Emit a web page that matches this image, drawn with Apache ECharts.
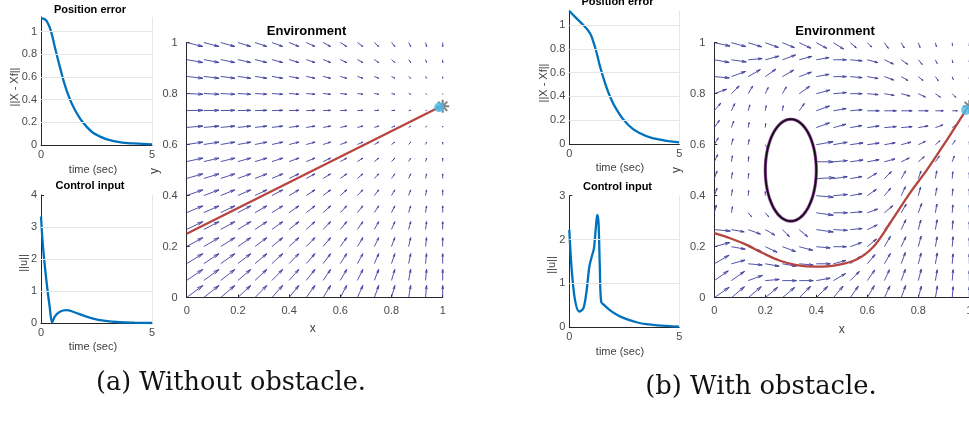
<!DOCTYPE html>
<html><head><meta charset="utf-8">
<script src="https://cdn.jsdelivr.net/npm/echarts@6/dist/echarts.min.js"></script>
<style>html,body{margin:0;padding:0;background:#fff}#c{width:969px;height:424px}</style>
</head><body><div id="c"></div>
<script>
// ---------- data ----------
// (a) Without obstacle
const peTimeA = [0,0.17,0.32,0.47,0.62,0.85,1.15,1.53,2.05,2.66,3.41,4.17,5];
const peValA  = [1.118,1.11,1.07,0.99,0.868,0.69,0.485,0.309,0.162,0.074,0.029,0.014,0.006];
const ciTimeA = [0,0.09,0.24,0.39,0.5,0.62,0.85,1.15,1.45,2.05,2.66,3.41,4.2,5];
const ciValA  = [3.33,2.39,1.35,0.52,0.02,0.21,0.36,0.41,0.36,0.21,0.10,0.04,0.02,0.01];
const trajXA = [0,0.986];
const trajYA = [0.25,0.746];
// (b) With obstacle
const peTimeB = [0,0.33,0.71,0.94,1.09,1.25,1.40,1.63,1.85,2.16,2.61,3.22,3.83,5];
const peValB  = [1.118,1.056,0.986,0.93,0.86,0.76,0.65,0.51,0.40,0.286,0.174,0.09,0.048,0.014];
const ciTimeB = [0,0.11,0.26,0.45,0.64,0.79,0.91,1.02,1.12,1.21,1.27,1.33,1.39,1.45,1.6,1.8,2.05,2.3,2.7,3.06,3.5,4,5];
const ciValB  = [2.22,1.31,0.62,0.36,0.43,0.85,1.38,1.61,1.80,2.29,2.56,2.37,1.31,0.58,0.5,0.41,0.32,0.25,0.17,0.115,0.07,0.045,0.015];
const trajXB = [0,0.062,0.127,0.192,0.258,0.323,0.40,0.48,0.558,0.624,0.689,0.767,0.833,0.90,0.987];
const trajYB = [0.253,0.233,0.207,0.174,0.145,0.128,0.122,0.128,0.15,0.2,0.292,0.41,0.50,0.60,0.736];
const obstacle = [0.3,0.5,0.1,0.2]; // centre x, centre y, radius x, radius y
const goal = [1,0.75];
const endA = [0.986,0.746];
const endB = [0.987,0.736];

// quiver grid (arrow bases)
const gridX = [0,0.067,0.133,0.2,0.267,0.333,0.4,0.467,0.533,0.6,0.667,0.733,0.8,0.867,0.933,1];
const gridY = [1,0.933,0.867,0.8,0.733,0.667,0.6,0.533,0.467,0.4,0.333,0.267,0.2,0.133,0.067,0];
// (a) field: x-component per column, y-component per row
const quiverA_u = [0.063,0.059,0.055,0.050,0.046,0.042,0.038,0.034,0.029,0.025,0.021,0.017,0.013,0.008,0.004,0.000];
const quiverA_v = [-0.0157,-0.0115,-0.0073,-0.0031,0.0010,0.0052,0.0094,0.0136,0.0178,0.0220,0.0261,0.0303,0.0345,0.0387,0.0429,0.0470];
// (b) field: direction (deg) and magnitude per row (top to bottom), null inside the obstacle
const quiverB_angle = [
 [-12,-15,-17,-20,-22,-25,-28,-32,-40,-45,-55,-60,-70,-75,-85,-90],
 [-10,-8,5,15,20,15,10,0,-5,-15,-25,-35,-50,-65,-80,-90],
 [-5,20,30,35,30,20,10,0,-5,-10,-20,-30,-40,-55,-70,-90],
 [20,45,60,65,60,35,15,5,0,-5,-10,-15,-25,-35,-45,-90],
 [50,65,75,80,80,55,20,10,5,0,0,0,0,0,0,0],
 [55,70,80,85,null,null,20,15,10,8,5,5,10,20,35,90],
 [60,75,80,-60,null,null,10,10,8,8,10,15,25,40,55,90],
 [65,80,85,90,null,null,0,5,8,10,15,25,40,55,70,90],
 [70,80,85,90,null,null,3,8,10,30,45,60,70,80,85,90],
 [70,80,85,90,null,null,-5,5,10,35,50,65,75,80,85,90],
 [75,80,-50,-50,null,null,-8,0,5,20,40,60,70,80,85,90],
 [-5,-10,-20,-30,-45,-40,-8,-3,5,25,50,65,75,80,85,90],
 [15,-10,-20,-25,-20,-15,-5,0,20,40,60,65,75,80,85,90],
 [30,15,-5,-10,-10,-5,0,15,35,50,60,70,75,80,85,90],
 [35,35,20,5,0,0,10,30,45,55,65,70,75,80,85,90],
 [35,40,40,40,40,45,45,50,55,60,65,70,75,80,85,90]
];
const quiverB_mag = [
 [0.063,0.059,0.055,0.055,0.051,0.051,0.047,0.047,0.031,0.024,0.027,0.024,0.020,0.016,0.012,0.012],
 [0.059,0.059,0.055,0.055,0.055,0.051,0.051,0.051,0.047,0.043,0.039,0.031,0.024,0.016,0.012,0.008],
 [0.059,0.059,0.055,0.051,0.051,0.051,0.051,0.051,0.047,0.043,0.039,0.031,0.024,0.020,0.012,0.008],
 [0.051,0.043,0.035,0.027,0.031,0.051,0.055,0.051,0.047,0.043,0.039,0.035,0.031,0.024,0.020,0.004],
 [0.039,0.031,0.024,0.020,0.020,0.035,0.055,0.051,0.047,0.047,0.047,0.043,0.039,0.031,0.020,0],
 [0.035,0.027,0.020,0.016,null,null,0.055,0.051,0.047,0.047,0.047,0.043,0.039,0.031,0.020,0.008],
 [0.031,0.024,0.020,0.016,null,null,0.067,0.055,0.051,0.047,0.043,0.039,0.031,0.024,0.020,0.012],
 [0.031,0.024,0.020,0.012,null,null,0.067,0.055,0.051,0.047,0.043,0.035,0.031,0.027,0.024,0.020],
 [0.031,0.024,0.020,0.012,null,null,0.071,0.055,0.047,0.043,0.039,0.035,0.031,0.031,0.027,0.024],
 [0.031,0.024,0.020,0.016,null,null,0.067,0.055,0.047,0.043,0.039,0.039,0.035,0.031,0.027,0.027],
 [0.031,0.024,0.020,0.020,null,null,0.067,0.055,0.047,0.043,0.043,0.039,0.039,0.035,0.031,0.031],
 [0.063,0.051,0.051,0.043,0.039,0.043,0.067,0.055,0.047,0.043,0.043,0.043,0.039,0.039,0.035,0.031],
 [0.063,0.055,0.055,0.051,0.055,0.055,0.055,0.051,0.047,0.047,0.047,0.043,0.043,0.039,0.039,0.035],
 [0.067,0.055,0.055,0.055,0.055,0.055,0.055,0.051,0.051,0.047,0.047,0.047,0.043,0.043,0.039,0.039],
 [0.067,0.063,0.059,0.055,0.055,0.055,0.055,0.055,0.051,0.051,0.047,0.047,0.047,0.043,0.043,0.039],
 [0.071,0.067,0.067,0.063,0.063,0.063,0.063,0.059,0.055,0.055,0.051,0.051,0.047,0.047,0.043,0.043]
];
const peTicks = [0.2,0.4,0.6,0.8,1];
const ciTicksA = [1,2,3];
const ciTicksB = [1,2];

// ---------- build ----------
const SANS = 'Liberation Sans, Arial, Helvetica, sans-serif';
const AX = '#262626', LBL = '#4a4a4a', GRIDC = '#e6e6e6';
const BLUE = '#0072BD', RED = '#b5453e', ARROW = '#40409e';
const zip = (a,b) => a.map((v,i)=>[v,b[i]]);

const quiverDataA = [];
gridY.forEach((y,i)=>gridX.forEach((x,j)=>quiverDataA.push([x,y,quiverA_u[j],quiverA_v[i]])));
const quiverDataB = [];
gridY.forEach((y,i)=>gridX.forEach((x,j)=>{
  const a = quiverB_angle[i][j], m = quiverB_mag[i][j];
  if (a === null || m === null) return;
  quiverDataB.push([x,y,m*Math.cos(a*Math.PI/180),m*Math.sin(a*Math.PI/180)]);
}));

const grids = [
  {left:41, top:17, width:111, height:128},
  {left:41, top:195, width:111, height:128.3},
  {left:186.7, top:42.5, width:256, height:255},
  {left:569.3, top:10.7, width:110, height:133.3},
  {left:569.3, top:195.7, width:110, height:131.6},
  {left:714.3, top:42.7, width:255, height:255}
].map(g=>Object.assign({containLabel:false, outerBoundsMode:'none', show:false}, g));

function axisBase(gi, min, max, interval, margin){
  return {type:'value', gridIndex:gi, min, max, interval,
    axisLine:{show:true, onZero:false, lineStyle:{color:AX, width:1}},
    axisTick:{show:true, inside:true, length:3, lineStyle:{color:AX}},
    axisLabel:{color:LBL, fontSize:11, fontFamily:SANS, margin, showMaxLabel:true},
    splitLine:{show:false}};
}
const xAxes = [
  axisBase(0,0,5,5,4), axisBase(1,0,5,5,4), axisBase(2,0,1,0.2,8),
  axisBase(3,0,5,5,4), axisBase(4,0,5,5,4), axisBase(5,0,1,0.2,8)
];
const yAxes = [
  axisBase(0,0,1.13,0.2,4), axisBase(1,0,4,1,4), axisBase(2,0,1,0.2,9),
  axisBase(3,0,1.12,0.2,4), axisBase(4,0,3,1,4), axisBase(5,0,1,0.2,9)
];
yAxes[0].axisLabel.showMaxLabel = false;
yAxes[3].axisLabel.showMaxLabel = false;

function gridLines(ai, ticks){
  return {type:'line', xAxisIndex:ai, yAxisIndex:ai, data:[], symbol:'none', silent:true, animation:false,
    markLine:{silent:true, symbol:'none', animation:false, label:{show:false},
      lineStyle:{color:GRIDC, type:'solid', width:1},
      data: ticks.map(v=>({yAxis:v})).concat([{xAxis:5}])}};
}
function curve(ai, t, v, sm){
  return {type:'line', xAxisIndex:ai, yAxisIndex:ai, data:zip(t,v), symbol:'none', smooth:sm,
    lineStyle:{color:BLUE, width:2.3}, animation:false, silent:true, z:3};
}
function quiver(ai, data){
  return {type:'custom', xAxisIndex:ai, yAxisIndex:ai, data, silent:true, animation:false, clip:false, z:2,
    renderItem:(params, api)=>{
      const x=api.value(0), y=api.value(1), u=api.value(2), v=api.value(3);
      const p0=api.coord([x,y]), p1=api.coord([x+u,y+v]);
      const dx=p1[0]-p0[0], dy=p1[1]-p0[1];
      if (Math.hypot(dx,dy) < 0.6) return null;
      const al=0.3, be=0.25;
      const h1=[p1[0]-al*(dx+be*dy), p1[1]-al*(dy-be*dx)];
      const h2=[p1[0]-al*(dx-be*dy), p1[1]-al*(dy+be*dx)];
      const st={stroke:ARROW, lineWidth:0.9, fill:null};
      return {type:'group', children:[
        {type:'line', shape:{x1:p0[0],y1:p0[1],x2:p1[0],y2:p1[1]}, style:st},
        {type:'polyline', shape:{points:[h1,p1,h2]}, style:st}
      ]};
    }};
}
function traj(ai, xs, ys, smooth){
  return {type:'line', xAxisIndex:ai, yAxisIndex:ai, data:zip(xs,ys), symbol:'none', smooth:smooth?0.35:false,
    lineStyle:{color:RED, width:2.3}, animation:false, silent:true, z:4};
}
function goalMark(ai){
  return {type:'custom', xAxisIndex:ai, yAxisIndex:ai, data:[goal], silent:true, animation:false, clip:false, z:5,
    renderItem:(params, api)=>{
      const c=api.coord([api.value(0),api.value(1)]), r=6.5, ch=[];
      for(let k=0;k<4;k++){const a=k*Math.PI/4;
        ch.push({type:'line', shape:{x1:c[0]-r*Math.cos(a),y1:c[1]-r*Math.sin(a),x2:c[0]+r*Math.cos(a),y2:c[1]+r*Math.sin(a)},
          style:{stroke:'#7f7f7f', lineWidth:2}});}
      return {type:'group', children:ch};
    }};
}
function endDot(ai, p){
  return {type:'scatter', xAxisIndex:ai, yAxisIndex:ai, data:[p], symbol:'circle', symbolSize:10,
    itemStyle:{color:'#4DBEEE'}, silent:true, animation:false, z:6};
}
function obstacleSeries(ai){
  return {type:'custom', xAxisIndex:ai, yAxisIndex:ai, data:[obstacle], silent:true, animation:false, clip:false, z:5,
    renderItem:(params, api)=>{
      const cx=api.value(0), cy=api.value(1), rx=api.value(2), ry=api.value(3), pts=[];
      for(let k=0;k<=90;k++){const a=k*2*Math.PI/90; pts.push(api.coord([cx+rx*Math.cos(a), cy+ry*Math.sin(a)]));}
      return {type:'group', children:[
        {type:'polyline', shape:{points:pts}, style:{stroke:'#a04aaf', lineWidth:3.2, fill:null}},
        {type:'polyline', shape:{points:pts}, style:{stroke:'#111', lineWidth:1.8, fill:null}}
      ]};
    }};
}

function txt(s, x, y, o){
  o = o || {};
  return {type:'text', x, y, rotation:o.rot||0, silent:true, z:10,
    style:{text:s, fill:o.color||'#404040', fontSize:o.size||11, fontWeight:o.bold?'bold':'normal',
      fontFamily:o.family||SANS, textAlign:'center', align:'center', textVerticalAlign:'middle', verticalAlign:'middle'}};
}
const R = Math.PI/2;
const graphics = [
  txt('Position error',90,9.5,{bold:true,color:'#000'}),
  txt('Control input',90,186,{bold:true,color:'#000'}),
  txt('Environment',306.5,31.5,{bold:true,color:'#000',size:13}),
  txt('||X - Xf||',15,87,{rot:R}),
  txt('time (sec)',93,170),
  txt('||u||',24,263,{rot:R}),
  txt('time (sec)',93,346.5),
  txt('y',155,171,{rot:R,size:12}),
  txt('x',312.7,328.3,{size:12}),
  txt('(a) Without obstacle.',231,383,{family:'DejaVu Serif, serif',size:25.5,color:'#111'}),
  txt('Position error',617.5,1.5,{bold:true,color:'#000'}),
  txt('Control input',617.5,186.7,{bold:true,color:'#000'}),
  txt('Environment',835,31.7,{bold:true,color:'#000',size:13}),
  txt('||X - Xf||',544,83,{rot:R}),
  txt('time (sec)',620,168),
  txt('||u||',551.7,265,{rot:R}),
  txt('time (sec)',620,351.7),
  txt('y',677,170,{rot:R,size:12}),
  txt('x',841.7,329.3,{size:12}),
  txt('(b) With obstacle.',761,387.5,{family:'DejaVu Serif, serif',size:25.8,color:'#111'})
];

const chart = echarts.init(document.getElementById('c'), null, {renderer:'canvas'});
chart.setOption({
  animation:false,
  backgroundColor:'#fff',
  grid:grids, xAxis:xAxes, yAxis:yAxes,
  graphic:{elements:graphics},
  series:[
    gridLines(0,peTicks), curve(0,peTimeA,peValA,0.5),
    gridLines(1,ciTicksA), curve(1,ciTimeA,ciValA,0.3),
    quiver(2,quiverDataA), traj(2,trajXA,trajYA,false), goalMark(2), endDot(2,endA),
    gridLines(3,peTicks), curve(3,peTimeB,peValB,0.5),
    gridLines(4,ciTicksB), curve(4,ciTimeB,ciValB,0.3),
    quiver(5,quiverDataB), obstacleSeries(5), traj(5,trajXB,trajYB,true), goalMark(5), endDot(5,endB)
  ]
});
</script></body></html>
